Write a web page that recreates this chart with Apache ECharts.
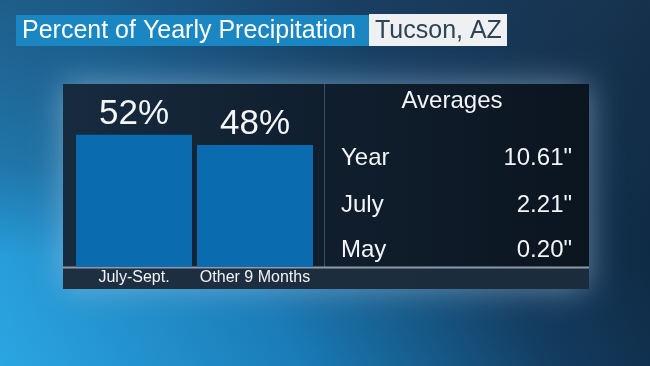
<!DOCTYPE html>
<html><head><meta charset="utf-8">
<script src="https://cdn.jsdelivr.net/npm/echarts@6/dist/echarts.min.js"></script>
<style>html,body{margin:0;padding:0;background:#000;}#c{width:650px;height:366px;}</style>
</head><body><div id="c"></div>
<script>
const titleMain = 'Percent of Yearly Precipitation';
const titlePlace = 'Tucson, AZ';
const categories = ['July-Sept.', 'Other 9 Months'];
const percents = [52, 48];
const avgHeader = 'Averages';
const avgLabels = ['Year', 'July', 'May'];
const avgValues = ['10.61"', '2.21"', '0.20"'];

const FONT = '"Liberation Sans", Arial, sans-serif';
const chart = echarts.init(document.getElementById('c'), null, {renderer: 'canvas'});

const rowY = [158, 205, 250.5];
const tableTexts = [];
avgLabels.forEach((l, i) => {
  tableTexts.push({type: 'text', z: 10, style: {text: l, x: 341, y: rowY[i], fill: '#f2f4f6', fontSize: 24, fontFamily: FONT, textAlign: 'left', textVerticalAlign: 'middle'}});
  tableTexts.push({type: 'text', z: 10, style: {text: avgValues[i], x: 572, y: rowY[i], fill: '#f2f4f6', fontSize: 24, fontFamily: FONT, textAlign: 'right', textVerticalAlign: 'middle'}});
});

chart.setOption({
  backgroundColor: new echarts.graphic.LinearGradient(0, 1, 1, 0, [
    {offset: 0, color: '#2ba6e2'},
    {offset: 0.35, color: '#1a7cb8'},
    {offset: 0.65, color: '#133c60'},
    {offset: 1, color: '#0b1a2a'}
  ]),
  animation: false,
  graphic: [
    {type: 'rect', z: 0, shape: {x: 0, y: 0, width: 650, height: 366},
      style: {fill: new echarts.graphic.LinearGradient(0, 0, 0, 1, [
        {offset: 0, color: 'rgba(30,65,100,0.6)'},
        {offset: 0.45, color: 'rgba(25,60,95,0.35)'},
        {offset: 0.7, color: 'rgba(20,60,95,0)'},
        {offset: 1, color: 'rgba(20,60,95,0)'}
      ])}},
    {type: 'rect', z: 1, shape: {x: 63, y: 84, width: 526, height: 205},
      style: {fill: new echarts.graphic.LinearGradient(0, 0, 1, 0, [
        {offset: 0, color: '#172b3f'},
        {offset: 0.5, color: '#101e2d'},
        {offset: 1, color: '#0b1520'}
      ]), shadowBlur: 30, shadowColor: 'rgba(170,200,225,0.55)'}},
    {type: 'rect', z: 2, shape: {x: 63, y: 268, width: 526, height: 21},
      style: {fill: 'rgba(30,48,66,0.85)'}},
    {type: 'line', z: 3, shape: {x1: 324.5, y1: 84, x2: 324.5, y2: 268},
      style: {stroke: 'rgba(70,90,110,0.8)', lineWidth: 1}},
    {type: 'line', z: 3, shape: {x1: 63, y1: 267.5, x2: 589, y2: 267.5},
      style: {stroke: '#8f9aa5', lineWidth: 2}},
    {type: 'rect', z: 5, shape: {x: 16, y: 15, width: 353, height: 31}, style: {fill: '#1a86c2'}},
    {type: 'rect', z: 5, shape: {x: 369, y: 14, width: 138, height: 32}, style: {fill: '#eef0f2'}},
    {type: 'text', z: 6, style: {text: titleMain, x: 22, y: 31, fill: '#ffffff', fontSize: 25, fontFamily: FONT, textVerticalAlign: 'middle'}},
    {type: 'text', z: 6, style: {text: titlePlace, x: 375, y: 31, fill: '#2c4358', fontSize: 25, fontFamily: FONT, textVerticalAlign: 'middle'}},
    {type: 'text', z: 10, style: {text: avgHeader, x: 452, y: 101, fill: '#f2f4f6', fontSize: 24, fontFamily: FONT, textAlign: 'center', textVerticalAlign: 'middle'}}
  ].concat(tableTexts),
  grid: {left: 73.5, width: 242, top: 84, bottom: 99, containLabel: false},
  xAxis: {
    type: 'category', data: categories, z: 20,
    axisLine: {show: false}, axisTick: {show: false},
    axisLabel: {interval: 0, hideOverlap: false, color: '#f2f4f6', fontSize: 16, fontFamily: FONT, margin: 3}
  },
  yAxis: {type: 'value', min: 0, max: 72, show: false, splitLine: {show: false}},
  series: [{
    type: 'bar', data: percents, barWidth: 116, z: 4,
    itemStyle: {color: '#0a6bae'},
    label: {show: true, position: 'top', distance: 3, formatter: '{c}%', color: '#f4f6f8', fontSize: 35, fontFamily: FONT}
  }]
});
</script></body></html>
